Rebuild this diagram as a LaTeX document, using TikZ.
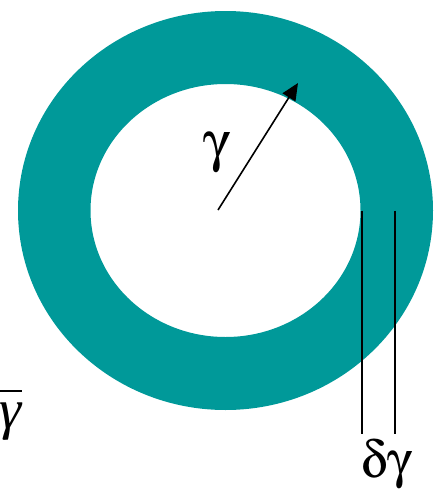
\RequirePackage{fix-cm}
\documentclass[tikz,border=0pt]{standalone}
\usepackage{fontspec}
\setmainfont{Liberation Serif}
\usepackage[Symbol]{upgreek}
\usetikzlibrary{arrows.meta}
\definecolor{ringTeal}{HTML}{009999}
\newcommand{\barred}[1]{\vbox{\hrule height 2.3pt \kern 11pt \hbox{\itshape #1}}}

\begin{document}
\begin{tikzpicture}[x=1pt, y=-1pt,
  ring/.style={fill=ringTeal, even odd rule},
  radius/.style={-{Triangle[length=17pt,width=15pt]}, line width=1.6pt},
  gap/.style={line width=2pt},
  sym/.style={font=\fontsize{56}{60}\selectfont, inner sep=0pt}]
  \useasboundingbox (0,0) rectangle (442,490);

  % ring between the two circles
  \path[ring] (225.5,210.5) ellipse [x radius=207.5, y radius=199.5]
              (225.5,210.5) ellipse [x radius=135, y radius=126.5];

  % radius arrow
  \coordinate (ctr) at (218,210);
  \coordinate (rim) at (298,83);
  \draw[radius] (ctr) -- (rim);
  \node[sym] (gam) at (217,153) {$\upgamma$};

  % thickness marks
  \coordinate (in top) at (362,210.5);
  \coordinate (in bot) at (362,434);
  \coordinate (out top) at (394.5,210.5);
  \coordinate (out bot) at (394.5,434);
  \draw[gap] (in top) -- (in bot);
  \draw[gap] (out top) -- (out bot);
  \node[sym, font=\fontsize{52}{60}\selectfont] (dgam) at (387,465) {$\updelta\upgamma$};

  % mean value, cut at the edge
  \node[sym, anchor=north east] (gbar) at (22,389.5) {\barred{γ}};
\end{tikzpicture}
\end{document}
